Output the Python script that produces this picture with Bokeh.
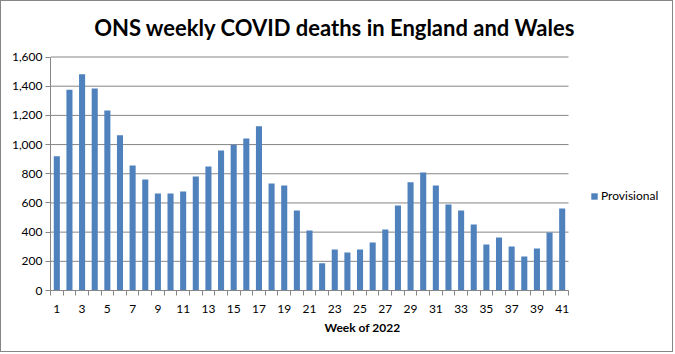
from bokeh.plotting import figure
from bokeh.models import (FixedTicker, Range1d, Legend, LegendItem, Label,
                          CustomJSTickFormatter)
from bokeh.embed import file_html
from bokeh.resources import INLINE

# ---- data ----
weeks = [1, 2, 3, 4, 5, 6, 7, 8, 9, 10, 11, 12, 13, 14, 15, 16, 17, 18, 19, 20, 21,
         22, 23, 24, 25, 26, 27, 28, 29, 30, 31, 32, 33, 34, 35, 36, 37, 38, 39, 40, 41]
deaths = [920, 1376, 1481, 1385, 1234, 1063, 857, 761, 665, 665, 679, 782, 850, 960,
          999, 1042, 1125, 734, 720, 549, 411, 187, 281, 261, 281, 329, 418, 583, 741,
          809, 720, 590, 549, 453, 315, 363, 302, 233, 288, 398, 562]
x_tick_labels = [1, 3, 5, 7, 9, 11, 13, 15, 17, 19, 21, 23, 25, 27, 29, 31, 33, 35, 37, 39, 41]
y_ticks = [0, 200, 400, 600, 800, 1000, 1200, 1400, 1600]
series_name = "Provisional"
title_text = "ONS weekly  COVID deaths in England and Wales"
x_title = "Week of 2022"

BAR = "#4F81BD"
GRID = "#868686"
FONT = "Lato"

W, H = 673, 352
LEFT, BOTTOM = 49, 63
PLOT_TOP = 55.5                    # px from top where the value axis ends
PLOT_W = 518                       # width of the category area in px
x0, x1 = weeks[0] - 0.5, weeks[-1] + 0.5
y0, y1 = y_ticks[0], y_ticks[-1]
x_end = x0 + (W - LEFT) * (x1 - x0) / PLOT_W
frame_h = H - BOTTOM
y_end = y0 + (y1 - y0) * frame_h / (frame_h - PLOT_TOP)

p = figure(width=W, height=H, output_backend="svg", toolbar_location=None,
           x_range=Range1d(x0, x_end), y_range=Range1d(y0, y_end),
           min_border_left=LEFT, min_border_right=0, min_border_top=0,
           min_border_bottom=BOTTOM)
p.styles = {"border": "1px solid #868686"}
p.outline_line_color = None
p.background_fill_color = "white"
p.border_fill_color = "white"

# horizontal gridlines limited to the category area
p.segment(x0=[x0] * len(y_ticks), x1=[x1] * len(y_ticks), y0=y_ticks, y1=y_ticks,
          line_color=GRID, line_width=1)

r = p.vbar(x=weeks, top=deaths, width=0.48, color=BAR, line_color=None)

# y axis
p.yaxis.ticker = FixedTicker(ticks=y_ticks)
p.yaxis.bounds = (y0, y1)
p.yaxis.formatter = CustomJSTickFormatter(code="return tick.toLocaleString('en-US');")
p.yaxis.axis_line_color = GRID
p.yaxis.major_tick_line_color = GRID
p.yaxis.major_tick_out = 5
p.yaxis.major_tick_in = 0
p.yaxis.minor_tick_line_color = None
p.yaxis.major_label_standoff = 3
p.yaxis.major_label_text_font = FONT
p.yaxis.major_label_text_font_size = "12px"
p.yaxis.major_label_text_color = "#000000"

# x axis: labels on odd weeks, tick marks between categories
bounds = [w - 0.5 for w in weeks] + [weeks[-1] + 0.5]
p.xaxis.ticker = FixedTicker(ticks=x_tick_labels, minor_ticks=bounds)
p.xaxis.bounds = (x0, x1)
p.xaxis.axis_line_color = GRID
p.xaxis.major_tick_line_color = None
p.xaxis.minor_tick_line_color = GRID
p.xaxis.minor_tick_out = 5
p.xaxis.minor_tick_in = 0
p.xaxis.major_label_standoff = 8
p.xaxis.major_label_text_font = FONT
p.xaxis.major_label_text_font_size = "12px"
p.xaxis.major_label_text_color = "#000000"
p.xaxis.axis_label = x_title
p.xaxis.axis_label_text_font = FONT
p.xaxis.axis_label_text_font_size = "12px"
p.xaxis.axis_label_text_font_style = "bold"
p.xaxis.axis_label_text_color = "#000000"
p.xaxis.axis_label_standoff = 4

p.grid.grid_line_color = None

p.add_layout(Label(x=287, y=263, x_units="screen", y_units="screen", text=title_text,
                   text_align="center", text_baseline="alphabetic", text_font=FONT,
                   text_font_size="22px", text_font_style="bold", text_color="#000000"))

legend = Legend(items=[LegendItem(label=series_name, renderers=[r])],
                location=(540, 87), orientation="vertical",
                glyph_width=8, glyph_height=8, label_standoff=3,
                label_text_font=FONT, label_text_font_size="12px",
                label_text_color="#000000", padding=0, margin=0, spacing=0,
                border_line_color=None, background_fill_alpha=0,
                label_height=14)
p.add_layout(legend)

open("out.html", "w").write(file_html(p, INLINE))
